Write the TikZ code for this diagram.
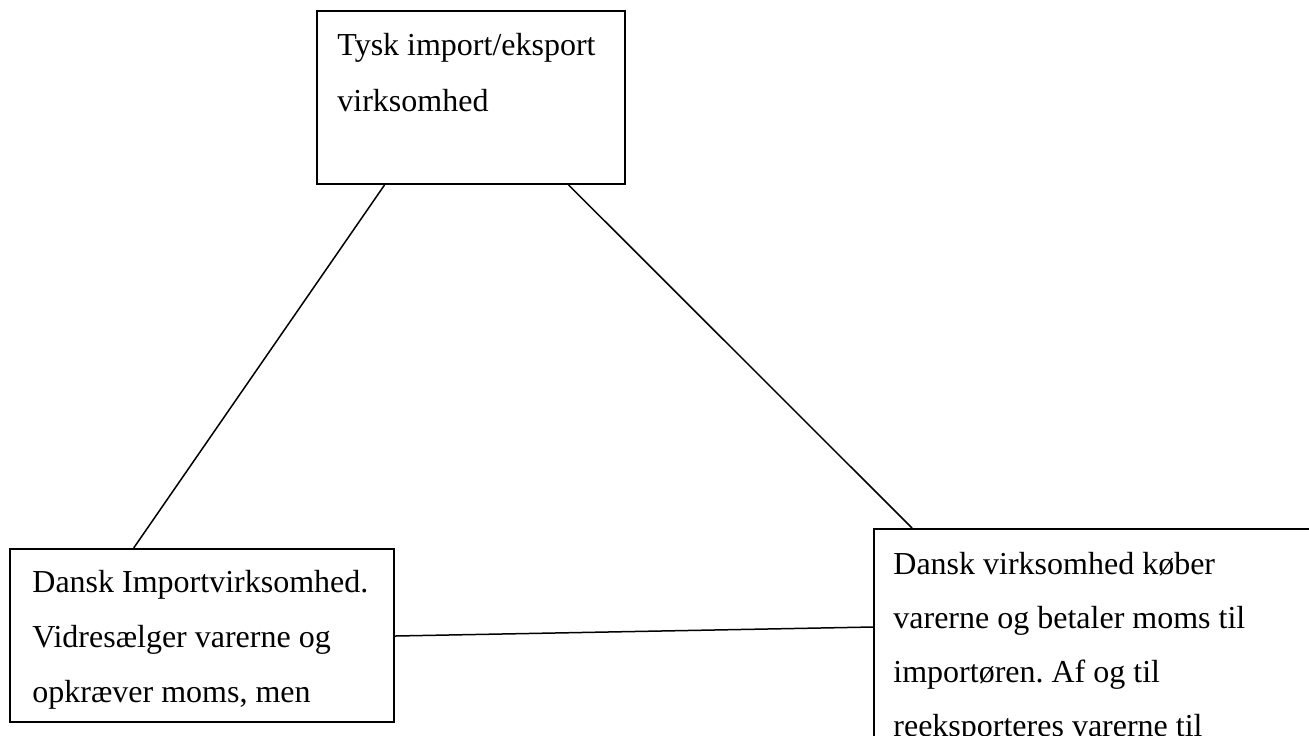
\documentclass[tikz,border=0pt]{standalone}
\usepackage{fontspec}
\setmainfont{Liberation Serif}
\usetikzlibrary{calc}
\frenchspacing
\begin{document}
\begin{tikzpicture}[x=0.5pt,y=-0.5pt,
  box/.style={draw, line width=1pt, inner sep=0pt, anchor=north west},
  txt/.style={anchor=base west, inner sep=0pt, align=left, font=\fontsize{16pt}{#1}\selectfont},
  txt/.default=27.5pt,
  link/.style={line width=0.75pt}]
\useasboundingbox (0,0) rectangle (1309,735);
\begin{scope}
\clip (0,0) rectangle (1309,735);
\node[box, minimum width=154pt, minimum height=86.5pt] (tysk) at (316,10) {};
\node[box, minimum width=192pt, minimum height=86.5pt] (dimp) at (9,548) {};
\node[box, minimum width=240pt, minimum height=125pt] (dvirk) at (873,528) {};
\node[txt=27.75pt] (tyskT) at (337,111) {Tysk import/eksport\\virksomhed};
\node[txt=27.5pt] (dimpT) at (32,702) {Dansk Importvirksomhed.\\Vidresælger varerne og\\opkræver moms, men};
\node[txt=26.85pt] (dvirkT) at (893,736) {Dansk virksomhed køber\\varerne og betaler moms til\\importøren. Af og til\\reeksporteres varerne til};
\draw[link] ($(tysk.south west)!0.221!(tysk.south east)$) -- ($(dimp.north west)!0.323!(dimp.north east)$);
\draw[link] ($(tysk.south west)!0.815!(tysk.south east)$) -- ($(dvirk.north west)+(39,0)$);
\draw[link] ($(dimp.north east)+(0,88)$) -- ($(dvirk.north west)+(0,99)$);
\end{scope}
\end{tikzpicture}
\end{document}
